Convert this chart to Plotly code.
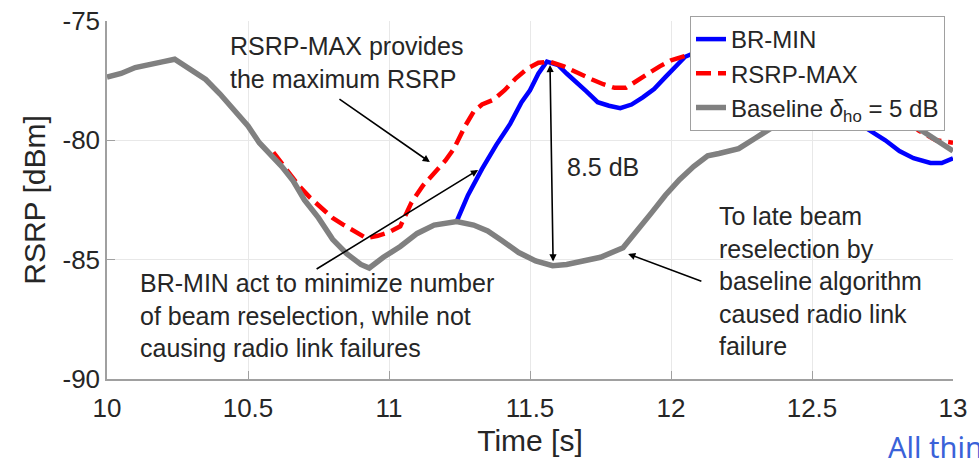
import plotly.graph_objects as go

# ---- data ----
base_t = [10.00, 10.05, 10.10, 10.15, 10.20, 10.24, 10.30, 10.35, 10.40, 10.45,
          10.50, 10.54, 10.58, 10.62, 10.66, 10.70, 10.75, 10.80, 10.85, 10.90,
          10.93, 10.98, 11.04, 11.10, 11.16, 11.24, 11.30, 11.35, 11.40, 11.46,
          11.52, 11.58, 11.63, 11.70, 11.75, 11.83, 11.88, 11.93, 11.98, 12.03,
          12.08, 12.13, 12.17, 12.24, 12.30, 12.34, 12.42, 12.50, 12.60, 12.70,
          12.80, 12.89, 12.95, 13.00]
base_rsrp = [-77.35, -77.2, -76.95, -76.8, -76.7, -76.6, -77.05, -77.45, -78.05, -78.75,
             -79.4, -80.1, -80.6, -81.1, -81.7, -82.5, -83.25, -84.15, -84.75, -85.2,
             -85.35, -84.9, -84.45, -83.9, -83.55, -83.4, -83.55, -83.8, -84.2, -84.7,
             -85.05, -85.25, -85.2, -85.05, -84.9, -84.5, -83.8, -83.05, -82.3, -81.65,
             -81.1, -80.65, -80.55, -80.35, -79.9, -79.6, -79.0, -78.4, -77.9, -78.2,
             -78.9, -79.6, -80.0, -80.45]

brmin_t = [11.24, 11.28, 11.33, 11.38, 11.43, 11.47, 11.50, 11.53, 11.56, 11.60,
           11.63, 11.67, 11.70, 11.74, 11.78, 11.82, 11.86, 11.90, 11.94, 11.98,
           12.02, 12.05, 12.15, 12.30, 12.45, 12.58, 12.65, 12.70, 12.76, 12.81,
           12.86, 12.92, 12.96, 13.00]
brmin_rsrp = [-83.4, -82.3, -81.2, -80.2, -79.3, -78.4, -77.9, -77.2, -76.7, -76.85,
              -77.2, -77.6, -77.95, -78.4, -78.55, -78.65, -78.5, -78.2, -77.85, -77.35,
              -76.85, -76.5, -76.0, -75.8, -76.6, -77.8, -78.8, -79.55, -80.0, -80.45,
              -80.75, -80.95, -80.95, -80.75]

rsrpmax_t = [10.59, 10.63, 10.68, 10.72, 10.76, 10.80, 10.84, 10.88, 10.92, 10.96,
             11.00, 11.04, 11.08, 11.12, 11.16, 11.20, 11.23, 11.27, 11.30, 11.33,
             11.37, 11.41, 11.45, 11.49, 11.53, 11.57, 11.62, 11.67, 11.72, 11.76,
             11.80, 11.84, 11.88, 11.92, 11.96, 12.00, 12.05, 12.15, 12.30, 12.45,
             12.60, 12.75, 12.88, 12.94, 13.00]
rsrpmax_rsrp = [-80.5, -81.15, -81.9, -82.4, -82.85, -83.25, -83.55, -83.85, -84.1, -84.0,
                -83.85, -83.6, -82.6, -81.9, -81.35, -80.85, -80.35, -79.4, -78.8, -78.5,
                -78.3, -77.9, -77.4, -77.0, -76.75, -76.7, -76.9, -77.2, -77.45, -77.65,
                -77.8, -77.8, -77.5, -77.15, -76.9, -76.65, -76.45, -76.1, -75.8, -76.4,
                -77.3, -78.4, -79.6, -80.0, -80.1]

x_ticks = [10, 10.5, 11, 11.5, 12, 12.5, 13]
x_tick_labels = ["10", "10.5", "11", "11.5", "12", "12.5", "13"]
y_ticks = [-90, -85, -80, -75]
y_tick_labels = ["-90", "-85", "-80", "-75"]

FONT = "Liberation Sans, Arial, Helvetica, sans-serif"
TXT = "#262626"

W, H = 979, 462
ml, mr, mt, mb = 107, 26, 21, 83
pw, ph = W - ml - mr, H - mt - mb

fig = go.Figure()
fig.add_trace(go.Scatter(x=brmin_t, y=brmin_rsrp, mode="lines", name="BR-MIN",
                         line=dict(color="#0000ff", width=4.5)))
fig.add_trace(go.Scatter(x=rsrpmax_t, y=rsrpmax_rsrp, mode="lines", name="RSRP-MAX",
                         line=dict(color="#ff0000", width=4.5, dash="15px,7px")))
fig.add_trace(go.Scatter(x=base_t, y=base_rsrp, mode="lines",
                         name="Baseline <i>δ</i><sub>ho</sub> = 5 dB",
                         line=dict(color="#808080", width=5.5)))

txtfont = dict(size=25, color=TXT, family=FONT)
fig.add_annotation(x=10.429, y=-76.72, xref="x", yref="y", showarrow=False,
                   text="RSRP-MAX provides<br>the maximum RSRP", align="left",
                   xanchor="left", yanchor="middle", font=txtfont)
fig.add_annotation(x=10.11, y=-87.36, xref="x", yref="y", showarrow=False,
                   text="BR-MIN act to minimize number<br>of beam reselection, while not<br>causing radio link failures",
                   align="left", xanchor="left", yanchor="middle", font=txtfont)
fig.add_annotation(x=11.624, y=-81.12, xref="x", yref="y", showarrow=False,
                   text="8.5 dB", xanchor="left", yanchor="middle", font=txtfont)
fig.add_annotation(x=12.163, y=-85.89, xref="x", yref="y", showarrow=False,
                   text="To late beam<br>reselection by<br>baseline algorithm<br>caused radio link<br>failure",
                   align="left", xanchor="left", yanchor="middle", font=txtfont)

arrow_style = dict(showarrow=True, arrowhead=2, arrowsize=0.9, arrowwidth=1.6,
                   arrowcolor="#000000", text="", xref="x", yref="y",
                   axref="x", ayref="y", standoff=0, startstandoff=0)
fig.add_annotation(x=11.145, y=-80.91, ax=10.819, ay=-78.23, **arrow_style)
fig.add_annotation(x=11.316, y=-81.24, ax=10.738, ay=-85.43, **arrow_style)
fig.add_annotation(x=11.571, y=-76.84, ax=11.582, ay=-85.14, arrowside="end+start",
                   startarrowhead=2, startarrowsize=0.9, **arrow_style)
fig.add_annotation(x=11.848, y=-84.76, ax=12.113, ay=-85.93, **arrow_style)

# clipped web text at the bottom right of the source image
fig.add_annotation(x=(886 - ml) / pw, y=(H - mb - 447) / ph, xref="paper", yref="paper",
                   showarrow=False, text="All thin", xanchor="left", yanchor="middle",
                   font=dict(size=29, color="#3a62d9", family="Noto Sans, Open Sans, sans-serif"))

fig.update_layout(
    width=W, height=H,
    margin=dict(l=ml, r=mr, t=mt, b=mb, autoexpand=False),
    paper_bgcolor="white", plot_bgcolor="white",
    font=dict(family=FONT, color=TXT, size=26),
    showlegend=True,
    legend=dict(x=(690 - ml) / pw, y=(H - mb - 16) / ph, xanchor="left", yanchor="top",
                bgcolor="white", bordercolor="#a0a0a0", borderwidth=1,
                font=dict(size=24, color=TXT, family=FONT), itemwidth=30,
                tracegroupgap=0),
    xaxis=dict(range=[10, 13], tickvals=x_ticks, ticktext=x_tick_labels,
               showgrid=True, gridcolor="#e8e8e8", gridwidth=1,
               showline=True, linecolor="#a0a0a0", linewidth=1.5,
               ticks="inside", ticklen=8, tickcolor="#a0a0a0",
               tickfont=dict(size=26, color=TXT), zeroline=False, ticklabelstandoff=5,
               title=dict(text="Time [s]", font=dict(size=30, color=TXT), standoff=8)),
    yaxis=dict(range=[-90, -75], tickvals=y_ticks, ticktext=y_tick_labels,
               showgrid=True, gridcolor="#e8e8e8", gridwidth=1,
               showline=True, linecolor="#a0a0a0", linewidth=1.5,
               ticks="inside", ticklen=8, tickcolor="#a0a0a0",
               tickfont=dict(size=26, color=TXT), zeroline=False,
               title=dict(text="RSRP [dBm]", font=dict(size=30, color=TXT), standoff=8)),
)

fig.write_html("out.html", config={"displayModeBar": False},
               post_script="document.body.style.margin='0';document.body.style.overflow='hidden';")
